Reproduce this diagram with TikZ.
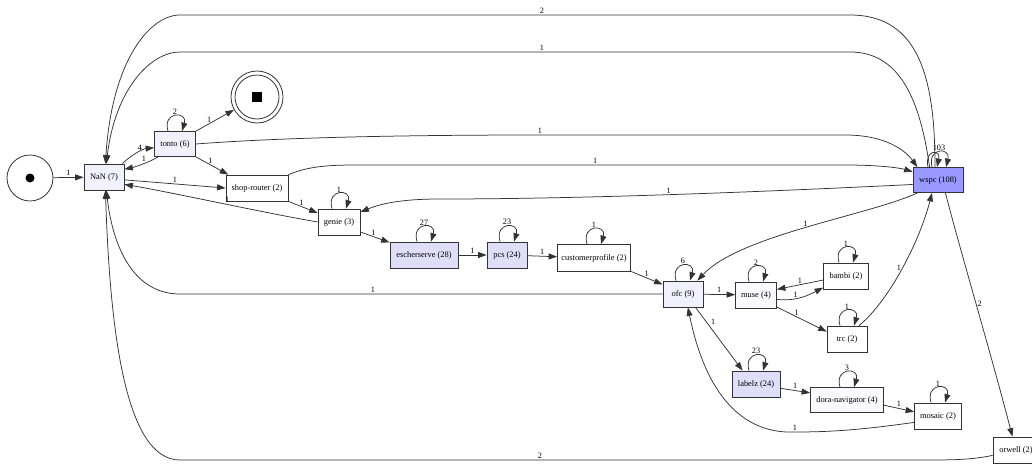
\documentclass[tikz,border=0pt]{standalone}
\usepackage{fontspec}
\setmainfont{Liberation Serif}
\usetikzlibrary{arrows.meta}
\definecolor{hot}{RGB}{153,153,255}
\definecolor{warm}{RGB}{222,222,248}
\definecolor{mild}{RGB}{241,241,253}
\definecolor{faint}{RGB}{249,249,255}
\newcommand\selfloop[2]{%
  \draw[flow] ([xshift=-7pt]#1.north) .. controls +(-6,-20) and +(6,-20) ..
    ([xshift=7pt]#1.north) node[lbl,pos=.5,above] {#2};}
\begin{document}
\begin{tikzpicture}[x=1pt,y=-1pt,
  act/.style={rectangle, draw=black!80, line width=0.8pt, minimum height=26pt,
    inner xsep=3pt, font=\fontsize{8.4}{10}\selectfont},
  flow/.style={draw=black!80, line width=0.75pt, -{Triangle[length=8.5pt,width=6pt]}},
  lbl/.style={font=\fontsize{8.2}{9}\selectfont, inner sep=1.2pt}]
\useasboundingbox (0,0) rectangle (1032,463);
\clip (0,0) rectangle (1032,463);

% activities
\node[act, fill=mild, minimum width=40pt] (nan) at (104,177) {NaN (7)};
\node[act, fill=mild, minimum width=41pt, minimum height=25pt] (tonto) at (175,144) {tonto (6)};
\node[act, minimum width=62pt] (shop) at (257,188) {shop-router (2)};
\node[act, minimum width=42pt] (genie) at (339,222) {genie (3)};
\node[act, fill=warm, minimum width=68pt] (esch) at (424,255) {escherserve (28)};
\node[act, fill=warm, minimum width=40pt] (pcs) at (507,255) {pcs (24)};
\node[act, minimum width=73pt, minimum height=27pt] (cust) at (594,258) {customerprofile (2)};
\node[act, fill=mild, minimum width=40pt] (ofc) at (683,294) {ofc (9)};
\node[act, fill=faint, minimum width=41pt] (muse) at (756,295) {muse (4)};
\node[act, minimum width=45pt] (bambi) at (846,276) {bambi (2)};
\node[act, minimum width=40pt] (trc) at (847,339) {trc (2)};
\node[act, fill=hot, minimum width=50pt, minimum height=25pt] (wspc) at (938,180) {wspc (108)};
\node[act, fill=warm, minimum width=48pt] (labelz) at (756,384) {labelz (24)};
\node[act, fill=faint, minimum width=73pt, minimum height=25pt] (dora) at (847,400) {dora-navigator (4)};
\node[act, minimum width=47pt] (mosaic) at (938,416) {mosaic (2)};
\node[act, minimum width=46pt] (orwell) at (1016,450) {orwell (2)};

% start and end places
\node[circle, draw=black!80, line width=0.8pt, minimum size=46pt, inner sep=0pt] (start) at (30,178) {};
\node[circle, fill=black, minimum size=9pt, inner sep=0pt] (startdot) at (start.center) {};
\node[circle, draw=black!80, line width=0.8pt, minimum size=52pt, inner sep=0pt] (endring) at (257,97) {};
\node[circle, draw=black!80, line width=0.8pt, minimum size=44pt, inner sep=0pt] (endcore) at (endring.center) {};
\node[fill=black, minimum size=10pt, inner sep=0pt] (endmark) at (endring.center) {};

% arcs
\draw[flow] (start) -- (nan) node[lbl,pos=.5,above] {1};
\draw[flow] (nan.36) .. controls (130,156) and (142,149) .. (tonto.190) node[lbl,pos=.6,above] {4};
\draw[flow] (tonto.217) .. controls (150,162) and (135,167) .. (nan.21) node[lbl,pos=.45,above] {1};
\draw[flow] (tonto.north east) -- (endring) node[lbl,pos=.35,above] {1};
\draw[flow] (tonto.south east) -- (shop.155) node[lbl,pos=.45,above] {1};
\draw[flow] (tonto.east) .. controls (300,136) and (450,135) .. (540,135) node[lbl,above] {1}
  -- (845,135) .. controls (885,135) and (905,150) .. (wspc.148);
\draw[flow] (nan.352) -- (shop.west) node[lbl,pos=.5,above] {1};
\draw[flow] (genie.west) .. controls (260,212) and (170,192) .. (nan.340) node[lbl,pos=.45,above] {1};
\draw[flow] (shop.north east) .. controls (305,168) and (320,165) .. (355,165)
  -- (845,165) node[lbl,pos=.49,above] {1}
  .. controls (880,165) and (900,168) .. (wspc.162);
\draw[flow] (shop.south east) -- (genie.157) node[lbl,pos=.45,above] {1};
\draw[flow] (wspc.190) .. controls (800,190) and (600,199) .. (440,199) node[lbl,pos=.55,above] {1}
  .. controls (400,199) and (380,204) .. (genie.25);
\draw[flow] (genie.-25) -- (esch.160) node[lbl,pos=.45,above] {1};
\draw[flow] (esch) -- (pcs) node[lbl,pos=.5,above] {1};
\draw[flow] (pcs) -- (cust) node[lbl,pos=.5,above] {1};
\draw[flow] (cust.-20) -- (ofc.155) node[lbl,pos=.5,above] {1};
\draw[flow] (wspc.-148) .. controls (870,215) and (740,235) .. (ofc.43) node[lbl,pos=.5,above] {1};
\draw[flow] (ofc) -- (muse) node[lbl,pos=.5,above] {1};
\draw[flow] (bambi.190) -- (muse.15) node[lbl,pos=.5,above] {1};
\draw[flow] (muse.-12) .. controls (795,301) and (805,297) .. (bambi.207) node[lbl,pos=.4,above] {1};
\draw[flow] (muse.-30) -- (trc.160) node[lbl,pos=.4,above] {1};
\draw[flow] (trc.48) .. controls (890,300) and (920,240) .. (wspc.-115) node[lbl,pos=.5,left] {1};
\draw[flow] (ofc.-47) -- (labelz.135) node[lbl,pos=.3,above right] {1};
\draw[flow] (labelz.-10) -- (dora.169) node[lbl,pos=.5,above] {1};
\draw[flow] (dora.-8) -- (mosaic.170) node[lbl,pos=.5,above] {1};
\draw[flow] (mosaic.-165) .. controls (860,430) and (830,432) .. (795,432) node[lbl,above] {1}
  .. controls (750,434) and (708,405) .. (ofc.-70);
\draw[flow] (ofc.west) -- (180,294) node[lbl,pos=.6,above] {1}
  .. controls (130,294) and (112,240) .. (nan.-80);
\draw[flow] (orwell.-167) .. controls (975,459) and (960,460) .. (930,460)
  -- (180,460) node[lbl,pos=.52,above] {2}
  .. controls (125,460) and (110,330) .. (nan.-84);
\draw[flow] (wspc.-60) .. controls (960,250) and (990,350) .. (orwell.105) node[lbl,pos=.5,right] {2};
\draw[flow] (wspc.103) .. controls (935,80) and (920,15) .. (850,15)
  -- (180,15) node[lbl,pos=.46,above] {2}
  .. controls (150,15) and (112,60) .. (nan.84);
\draw[flow] (wspc.123) .. controls (920,100) and (900,52) .. (850,52)
  -- (180,52) node[lbl,pos=.46,above] {1}
  .. controls (150,52) and (115,90) .. (nan.80);

% repetitions
\selfloop{tonto}{2}
\selfloop{genie}{1}
\selfloop{esch}{27}
\selfloop{pcs}{23}
\selfloop{cust}{1}
\selfloop{ofc}{6}
\selfloop{muse}{2}
\selfloop{bambi}{1}
\selfloop{trc}{1}
\selfloop{labelz}{23}
\selfloop{dora}{3}
\selfloop{mosaic}{1}
\draw[flow] ([xshift=-10pt]wspc.north) .. controls +(-4,-18) and +(4,-18) .. ([xshift=-1pt]wspc.north);
\draw[flow] ([xshift=-6pt]wspc.north) .. controls +(-5,-20) and +(5,-20) .. ([xshift=8pt]wspc.north)
  node[lbl,pos=.5,above] {103};
\end{tikzpicture}
\end{document}
